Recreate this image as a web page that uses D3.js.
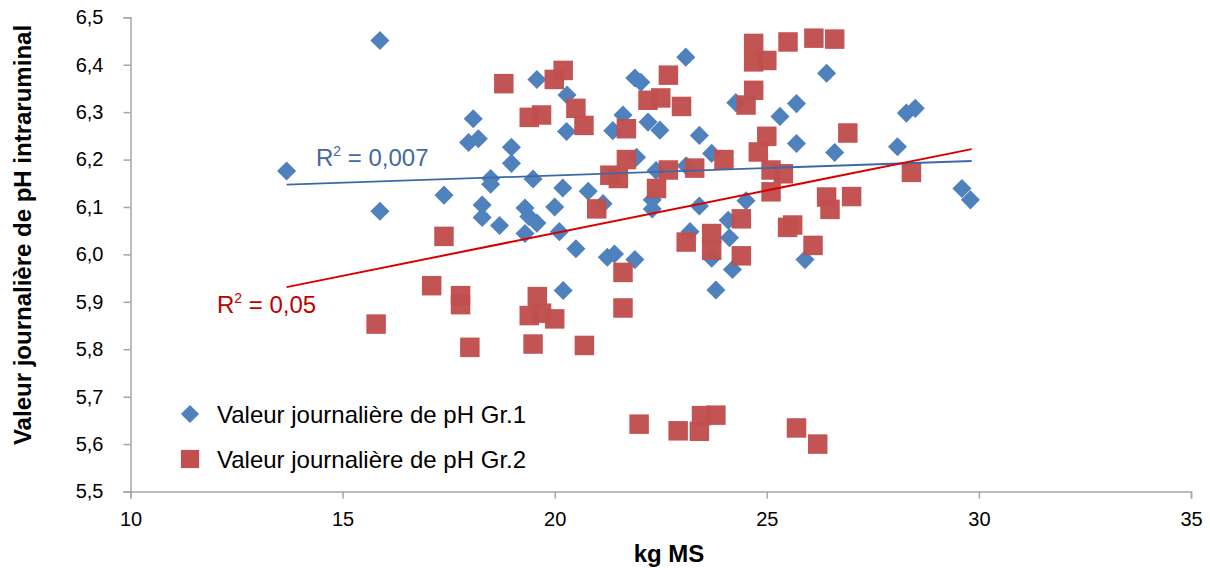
<!DOCTYPE html>
<html>
<head>
<meta charset="utf-8">
<script src="https://cdn.jsdelivr.net/npm/d3@7"></script>
<style>
  html, body { margin: 0; padding: 0; background: #fff; }
  svg { display: block; font-family: Arial, "Liberation Sans", sans-serif; }
</style>
</head>
<body>
<svg id="chart" width="1214" height="568"></svg>
<script>
'use strict';

// values
var gr1X = [13.68, 15.88, 15.88, 18.08, 17.97, 18.20, 18.98, 18.98, 18.49, 18.49, 17.39, 18.29, 18.29, 18.70,
  19.58, 20.29, 20.28, 19.49, 20.19, 20.79, 19.30, 20.00, 19.58, 19.39, 19.30, 20.11, 20.50, 21.41, 21.24,
  21.89, 22.03, 21.61, 21.37, 22.20, 22.48, 21.93, 22.39, 22.30, 22.30, 23.09, 23.41, 23.70, 23.10, 23.41,
  24.27, 25.31, 25.70, 26.41, 25.70, 26.60, 28.08, 24.51, 24.09, 24.12, 23.19, 28.29, 28.50, 29.60, 29.80,
  21.14, 21.89, 23.70, 24.19, 25.90, 23.80, 20.20];
var gr1Y = [6.176, 6.451, 6.091, 6.286, 6.236, 6.244, 6.226, 6.192, 6.160, 6.148, 6.125, 6.104, 6.078, 6.061,
  6.369, 6.336, 6.259, 6.159, 6.140, 6.133, 6.098, 6.100, 6.066, 6.080, 6.044, 6.048, 6.012, 6.001, 5.994,
  6.372, 6.363, 6.294, 6.261, 6.279, 6.262, 6.205, 6.177, 6.115, 6.096, 6.416, 6.251, 6.213, 6.187, 6.102,
  6.320, 6.291, 6.318, 6.382, 6.234, 6.215, 6.227, 6.113, 6.072, 6.035, 6.048, 6.298, 6.308, 6.139, 6.115,
  6.107, 5.989, 5.992, 5.968, 5.989, 5.925, 5.924];

var gr2X = [15.79, 17.10, 17.78, 17.78, 18.00, 17.39, 18.80, 20.20, 19.99, 19.40, 19.69, 20.50, 20.69, 21.69,
  21.69, 21.30, 21.50, 22.40, 20.99, 22.68, 22.20, 22.50, 22.99, 22.68, 23.30, 23.99, 24.69, 24.69, 25.00,
  24.69, 24.51, 25.50, 26.11, 26.60, 25.00, 24.80, 25.10, 25.39, 25.10, 26.91, 28.41, 26.41, 26.49, 27.00,
  24.40, 23.10, 23.70, 23.70, 25.61, 25.49, 26.09, 24.40, 21.61, 21.61, 19.59, 19.40, 19.69, 20.00, 19.49,
  20.70, 21.99, 22.91, 23.46, 23.41, 23.80, 25.70, 26.20];
var gr2Y = [5.853, 5.934, 5.913, 5.894, 5.804, 6.038, 6.360, 6.388, 6.369, 6.289, 6.294, 6.308, 6.272, 6.265,
  6.200, 6.167, 6.160, 6.139, 6.096, 6.378, 6.325, 6.330, 6.312, 6.178, 6.182, 6.200, 6.445, 6.406, 6.409,
  6.346, 6.315, 6.448, 6.456, 6.454, 6.249, 6.216, 6.178, 6.170, 6.132, 6.256, 6.173, 6.121, 6.095, 6.122,
  6.075, 6.026, 6.044, 6.009, 6.062, 6.057, 6.019, 5.997, 5.962, 5.887, 5.911, 5.871, 5.876, 5.864, 5.811,
  5.808, 5.642, 5.628, 5.660, 5.627, 5.661, 5.634, 5.600];

// linear trend lines (ends as drawn)
var trendX = [13.68, 29.83];
var trend1Y = [6.147, 6.197];
var trend2Y = [5.931, 6.222];

var xTicks = [10, 15, 20, 25, 30, 35];
var yTicks = [5.5, 5.6, 5.7, 5.8, 5.9, 6.0, 6.1, 6.2, 6.3, 6.4, 6.5];

var seriesNames = ['Valeur journalière de pH Gr.1', 'Valeur journalière de pH Gr.2'];

var BLUE = '#4f81bd';
var RED = '#c0504d';
var AXIS = '#a6a6a6';

var svg = d3.select('#chart');

var x = d3.scaleLinear().domain([10, 35]).range([130.5, 1191]);
var y = d3.scaleLinear().domain([5.5, 6.5]).range([491.5, 17.3]);

var frLocale = d3.formatLocale({decimal: ',', thousands: ' ', grouping: [3], currency: ['', ' €']});
var fmt1 = frLocale.format('.1f');

// axes
var yAxis = svg.append('g')
  .attr('transform', 'translate(' + x(10) + ',0)')
  .call(d3.axisLeft(y).tickValues(yTicks).tickFormat(fmt1).tickSize(7).tickPadding(20));

var xAxis = svg.append('g')
  .attr('transform', 'translate(0,' + y(5.5) + ')')
  .call(d3.axisBottom(x).tickValues(xTicks).tickFormat(d3.format('d')).tickSize(7).tickPadding(13));

[yAxis, xAxis].forEach(function(g) {
  g.select('.domain').attr('stroke', AXIS).attr('stroke-width', 1.5);
  g.selectAll('.tick line').attr('stroke', AXIS).attr('stroke-width', 1.5);
  g.selectAll('.tick text')
    .attr('fill', '#000')
    .style('font-size', '20px')
    .style('font-family', 'Arial, "Liberation Sans", sans-serif');
});

// axis titles
svg.append('text')
  .attr('x', 669)
  .attr('y', 562)
  .attr('text-anchor', 'middle')
  .style('font-size', '24px')
  .style('font-weight', 'bold')
  .text('kg MS');

svg.append('text')
  .attr('transform', 'translate(31,235) rotate(-90)')
  .attr('text-anchor', 'middle')
  .style('font-size', '24px')
  .style('font-weight', 'bold')
  .text('Valeur journalière de pH intraruminal');

// points
var gr1 = gr1X.map(function(v, i) { return {x: v, y: gr1Y[i]}; });
var gr2 = gr2X.map(function(v, i) { return {x: v, y: gr2Y[i]}; });

var diamond = d3.symbol().type(d3.symbolSquare).size(182);
var square = d3.symbol().type(d3.symbolSquare).size(380);

svg.append('g').selectAll('path')
  .data(gr1)
  .enter()
  .append('path')
  .attr('d', diamond)
  .attr('fill', BLUE)
  .attr('transform', function(d) { return 'translate(' + x(d.x) + ',' + y(d.y) + ') rotate(45)'; });

svg.append('g').selectAll('path')
  .data(gr2)
  .enter()
  .append('path')
  .attr('d', square)
  .attr('fill', RED)
  .attr('fill-opacity', 0.97)
  .attr('transform', function(d) { return 'translate(' + x(d.x) + ',' + y(d.y) + ')'; });

// trend lines
var line = d3.line()
  .x(function(d) { return x(d[0]); })
  .y(function(d) { return y(d[1]); });

svg.append('path')
  .datum(trendX.map(function(v, i) { return [v, trend1Y[i]]; }))
  .attr('d', line)
  .attr('fill', 'none')
  .attr('stroke', '#3d6aa6')
  .attr('stroke-width', 1.8);

svg.append('path')
  .datum(trendX.map(function(v, i) { return [v, trend2Y[i]]; }))
  .attr('d', line)
  .attr('fill', 'none')
  .attr('stroke', '#d90000')
  .attr('stroke-width', 2);

// R² labels
function r2Label(px, py, value, color) {
  var t = svg.append('text')
    .attr('x', px)
    .attr('y', py)
    .attr('fill', color)
    .style('font-size', '24px');
  t.append('tspan').text('R');
  t.append('tspan').attr('dy', -10).style('font-size', '14px').text('2');
  t.append('tspan').attr('dy', 10).text(' = ' + value);
}
r2Label(316, 166, '0,007', '#44699e');
r2Label(217, 313, '0,05', '#c00000');

// legend
var legend = svg.append('g');
legend.append('path')
  .attr('d', d3.symbol().type(d3.symbolSquare).size(165))
  .attr('fill', BLUE)
  .attr('transform', 'translate(190,414) rotate(45)');
legend.append('path')
  .attr('d', d3.symbol().type(d3.symbolSquare).size(330))
  .attr('fill', RED)
  .attr('transform', 'translate(190,459)');
legend.selectAll('text')
  .data(seriesNames)
  .enter()
  .append('text')
  .attr('x', 217)
  .attr('y', function(d, i) { return 422.5 + i * 45; })
  .attr('fill', '#000')
  .style('font-size', '24px')
  .text(function(d) { return d; });
</script>
</body>
</html>
